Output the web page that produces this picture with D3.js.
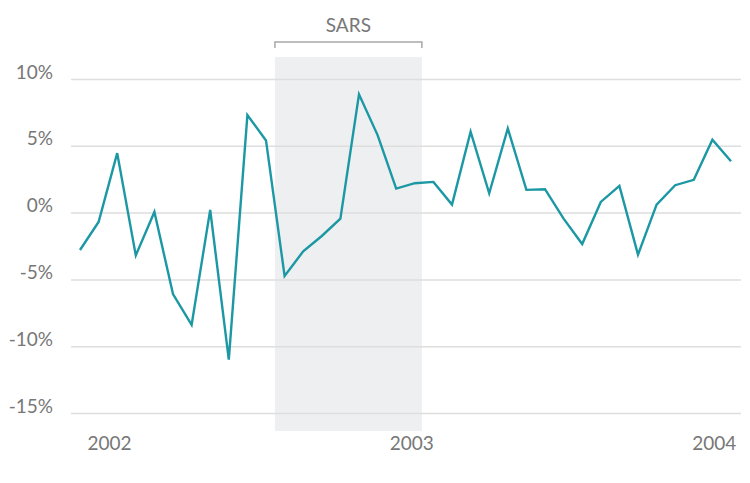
<!DOCTYPE html>
<html>
<head>
<meta charset="utf-8">
<script src="https://cdn.jsdelivr.net/npm/d3@7"></script>
<style>
  body { margin: 0; background: #fff; }
  svg text { font-family: "Lato", "Open Sans", sans-serif; font-weight: 400; fill: #777; }
</style>
</head>
<body>
<div id="chart"></div>
<script>
// monthly-ish growth values (%)
var values = [-2.8, -0.7, 4.45, -3.2, 0.05, -6.1, -8.4, 0.2, -11.0, 7.3,
              5.4, -4.75, -2.9, -1.75, -0.45, 8.85, 5.8, 1.8, 2.2, 2.3,
              0.6, 6.05, 1.45, 6.3, 1.7, 1.75, -0.45, -2.35, 0.8, 2.0,
              -3.15, 0.6, 2.05, 2.45, 5.45, 3.85];

var yTicks = [10, 5, 0, -5, -10, -15];
var yearPos = [1.56, 17.81, 34.07];      // position in point index
var yearLabels = ["2002", "2003", "2004"];
var sarsSpan = [10.48, 18.38];
var sarsLabel = "SARS";

var width = 750, height = 483;
var margin = {left: 80, right: 19, top: 79, bottom: 70};

var x = d3.scaleLinear()
          .domain([0, values.length - 1])
          .range([margin.left, width - margin.right]);

var y = d3.scaleLinear()
          .domain([-15, 10])
          .range([height - margin.bottom, margin.top]);

var svg = d3.select("#chart")
            .append("svg")
            .attr("width", width)
            .attr("height", height);

// ---------- SARS band ---------- //
svg.append("rect")
   .attr("x", x(sarsSpan[0]))
   .attr("width", x(sarsSpan[1]) - x(sarsSpan[0]))
   .attr("y", y(11.65))
   .attr("height", y(-16.35) - y(11.65))
   .attr("fill", "#eeeff1");

svg.append("path")
   .attr("d", "M" + x(sarsSpan[0]) + "," + (y(11.65) - 9) + "V" + (y(11.65) - 15) +
              "H" + x(sarsSpan[1]) + "V" + (y(11.65) - 9))
   .attr("fill", "none")
   .attr("stroke", "#a8a8a8")
   .attr("stroke-width", 1.5);

svg.append("text")
   .attr("x", (x(sarsSpan[0]) + x(sarsSpan[1])) / 2)
   .attr("y", 32)
   .attr("text-anchor", "middle")
   .attr("font-size", 19)
   .text(sarsLabel);

// ---------- grid + y axis ---------- //
var yAxis = g => g
  .attr("transform", `translate(${width - 9},0)`)
  .call(d3.axisLeft(y).tickValues(yTicks).tickSize(670).tickFormat(d => d + "%"))
  .call(g => g.select(".domain").remove())
  .call(g => g.selectAll(".tick line").attr("stroke", "#dedede").attr("stroke-width", 1.5))
  .call(g => g.selectAll(".tick text")
              .attr("x", -688)
              .attr("dy", "-0.05em")
              .attr("font-size", 19)
              .attr("font-family", null)
              .attr("fill", null));

svg.append("g").call(yAxis);

// ---------- x axis ---------- //
var xAxis = g => g
  .attr("transform", `translate(0,${height - 50})`)
  .call(d3.axisBottom(x).tickValues(yearPos).tickSize(0)
          .tickFormat((d, i) => yearLabels[i]))
  .call(g => g.select(".domain").remove())
  .call(g => g.selectAll(".tick text")
              .attr("font-size", 19)
              .attr("font-family", null)
              .attr("fill", null));

svg.append("g").call(xAxis);

// ---------- line ---------- //
svg.append("path")
   .datum(values)
   .attr("fill", "none")
   .attr("stroke", "#1b98a4")
   .attr("stroke-width", 2.4)
   .attr("stroke-linejoin", "miter")
   .attr("d", d3.line().x((d, i) => x(i)).y(d => y(d)));
</script>
</body>
</html>
